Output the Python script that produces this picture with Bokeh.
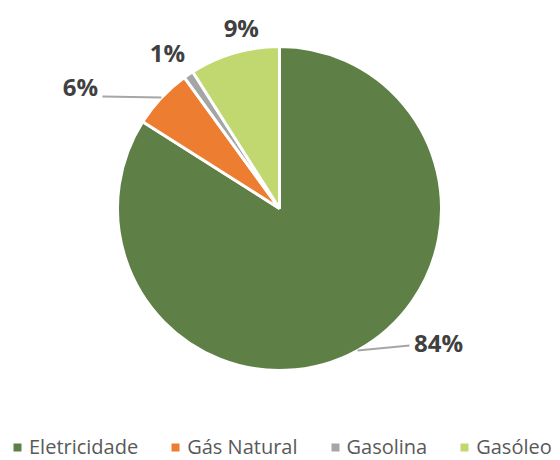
import math
from bokeh.plotting import figure
from bokeh.models import Legend, LegendItem, Range1d, ColumnDataSource
from bokeh.embed import file_html
from bokeh.resources import INLINE
from bokeh.core.properties import value

# ---- data ----
categories = ["Eletricidade", "Gás Natural", "Gasolina", "Gasóleo"]
shares = [84, 6, 1, 9]
colors = ["#5E7F45", "#ED7D31", "#A5A5A5", "#C0D86F"]

# ---- layout ----
W, H = 560, 460
CX, CY, R = 279, 460 - 208, 162
# label offsets (pixels) from the slice's outer edge at mid-angle
label_dx = [81, -81, -21, 7]
label_dy = [8, 11, 22, 25]
leader = [True, True, False, False]

p = figure(width=W, height=H, x_range=Range1d(0, W), y_range=Range1d(0, H),
           output_backend="svg", toolbar_location=None, min_border=0)
p.axis.visible = False
p.grid.visible = False
p.outline_line_color = None
p.background_fill_color = "white"

total = float(sum(shares))
cum = 0.0
items = []
lab_x, lab_y, lab_t = [], [], []
for cat, s, c, dx, dy, ld in zip(categories, shares, colors, label_dx, label_dy, leader):
    a0 = math.pi / 2 - 2 * math.pi * cum / total
    a1 = math.pi / 2 - 2 * math.pi * (cum + s) / total
    mid = (a0 + a1) / 2
    cum += s
    r = p.wedge(x=CX, y=CY, radius=R, start_angle=a0, end_angle=a1,
                direction="clock", fill_color=c, line_color=None)
    items.append(LegendItem(label=cat, renderers=[r]))
    p.wedge(x=CX, y=CY, radius=R, start_angle=a0, end_angle=a1,
            direction="clock", fill_color=None, line_color="white", line_width=3)
    ex = CX + R * math.cos(mid)
    ey = CY + R * math.sin(mid)
    lx, ly = ex + dx, ey + dy
    if ld:
        endx = lx - 29 if dx > 0 else lx + 22
        p.line(x=[ex, endx], y=[ey, ly - 3 if dx > 0 else ly - 10], line_color="#A6A6A6", line_width=2)
    lab_x.append(lx)
    lab_y.append(ly)
    lab_t.append(f"{s}%")

src = ColumnDataSource(dict(x=lab_x, y=lab_y, t=lab_t))
p.text(x="x", y="y", text="t", source=src, text_align="center", text_baseline="middle",
       text_font=value("Open Sans"), text_font_style="bold", text_font_size="24px",
       text_color="#404040")

legend = Legend(items=items, orientation="horizontal", location=(12, 0),
                padding=0, margin=0, spacing=32, label_standoff=7,
                glyph_width=10, glyph_height=10,
                label_text_font="Open Sans", label_text_font_size="20px",
                label_text_color="#595959", border_line_color=None,
                background_fill_alpha=0)
p.add_layout(legend)

open("out.html", "w").write(file_html(p, INLINE))
